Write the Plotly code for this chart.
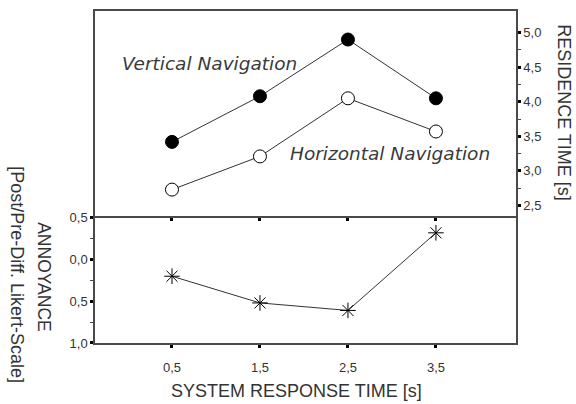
import plotly.graph_objects as go

# ---- data ----
srt = [0.5, 1.5, 2.5, 3.5]
vertical_nav = [3.42, 4.08, 4.90, 4.05]
horizontal_nav = [2.73, 3.21, 4.05, 3.57]
annoyance = [-0.20, -0.52, -0.61, 0.32]

x_tick_vals = [0.5, 1.5, 2.5, 3.5]
x_tick_text = ["0,5", "1,5", "2,5", "3,5"]
res_tick_vals = [2.5, 3.0, 3.5, 4.0, 4.5, 5.0]
res_tick_text = ["2,5", "3,0", "3,5", "4,0", "4,5", "5,0"]
ann_tick_vals = [0.5, 0.0, -0.5, -1.0]
ann_tick_text = ["0,5", "0,0", "0,5", "1,0"]

# ---- layout geometry (pixels) ----
W, H = 576, 404
L, R, T, B = 95, 60, 5, 61
PW, PH = W - L - R, H - T - B
DIV = 214  # divider pixel y
split = (H - B - DIV) / PH

def px(xp):
    return (xp - L) / PW

def py(yp):
    return (H - B - yp) / PH

LINE = "#4a4a4a"
TXT = "#333333"
FONT = "Liberation Sans, Arial, sans-serif"

fig = go.Figure()

fig.add_trace(go.Scatter(
    x=srt, y=vertical_nav, xaxis="x2", yaxis="y2", mode="lines+markers",
    line=dict(color="#333333", width=1),
    marker=dict(symbol="circle", size=13, color="black", line=dict(color="black", width=1)),
    showlegend=False, hoverinfo="skip"))
fig.add_trace(go.Scatter(
    x=srt, y=horizontal_nav, xaxis="x2", yaxis="y2", mode="lines+markers",
    line=dict(color="#333333", width=1),
    marker=dict(symbol="circle", size=13, color="white", line=dict(color="black", width=1)),
    showlegend=False, hoverinfo="skip"))
fig.add_trace(go.Scatter(
    x=srt, y=annoyance, xaxis="x", yaxis="y", mode="lines+markers",
    line=dict(color="#333333", width=1),
    marker=dict(symbol="asterisk-open", size=13, color="black", line=dict(color="black", width=1)),
    showlegend=False, hoverinfo="skip"))

xrange = [-0.375, 4.41]
tickfont = dict(family=FONT, size=13, color=TXT)

fig.update_layout(
    width=W, height=H, margin=dict(l=L, r=R, t=T, b=B),
    paper_bgcolor="white", plot_bgcolor="white",
    xaxis=dict(domain=[0, 1], anchor="y", range=xrange,
               tickmode="array", tickvals=x_tick_vals, ticktext=x_tick_text,
               ticks="outside", ticklen=3, tickwidth=3, tickcolor="black",
               ticklabelstandoff=9,
               showline=True, linecolor=LINE, linewidth=1.5, mirror=False,
               showgrid=False, zeroline=False, tickfont=tickfont),
    xaxis2=dict(domain=[0, 1], anchor="y2", range=xrange, matches="x",
                tickmode="array", tickvals=x_tick_vals, ticktext=x_tick_text,
                showticklabels=False,
                ticks="outside", ticklen=3, tickwidth=3, tickcolor="black",
                showline=True, linecolor=LINE, linewidth=1.5, mirror=True,
                showgrid=False, zeroline=False),
    yaxis=dict(domain=[0, split], anchor="x", range=[-1.0, 0.518],
               tickmode="array", tickvals=ann_tick_vals, ticktext=ann_tick_text,
               ticks="outside", ticklen=3, tickwidth=3, tickcolor="black",
               minor=dict(tickvals=[0.25, -0.25, -0.75], ticks="outside", ticklen=3,
                          tickwidth=1, tickcolor=LINE),
               showline=True, linecolor=LINE, linewidth=1.5, mirror=True,
               showgrid=False, zeroline=False, tickfont=tickfont),
    yaxis2=dict(domain=[split, 1], anchor="x2", side="right",
                range=[2.344, 5.3125],
                tickmode="array", tickvals=res_tick_vals, ticktext=res_tick_text,
                ticks="outside", ticklen=3, tickwidth=3, tickcolor="black",
                minor=dict(tickvals=[2.75, 3.25, 3.75, 4.25, 4.75], ticks="outside",
                           ticklen=3, tickwidth=1, tickcolor=LINE),
                showline=True, linecolor=LINE, linewidth=1.5, mirror=True,
                showgrid=False, zeroline=False, tickfont=tickfont),
)

ann_font = dict(family=FONT, size=18, color=TXT)
it_font = dict(family="DejaVu Sans, sans-serif", size=18.5, color="#3a3a3a", style="italic")

common = dict(showarrow=False, xanchor="center", yanchor="middle")
fig.add_annotation(x=0.932, y=4.56, xref="x2", yref="y2", text="Vertical Navigation",
                   font=it_font, **common)
fig.add_annotation(x=2.977, y=3.25, xref="x2", yref="y2", text="Horizontal Navigation",
                   font=it_font, **common)
fig.add_annotation(x=px(296), y=py(392), xref="paper", yref="paper",
                   text="SYSTEM RESPONSE TIME [s]", font=ann_font, **common)
fig.add_annotation(x=px(564), y=py(108), xref="paper", yref="paper",
                   text="RESIDENCE TIME [s]", textangle=90, font=ann_font, **common)
fig.add_annotation(x=px(44), y=py(276), xref="paper", yref="paper",
                   text="ANNOYANCE", textangle=90, font=dict(family=FONT, size=17.5, color=TXT),
                   **common)
fig.add_annotation(x=px(17), y=py(273), xref="paper", yref="paper",
                   text="[Post/Pre-Diff. Likert-Scale]", textangle=90,
                   font=ann_font, **common)

fig.write_html("out.html", config={"displayModeBar": False},
               post_script="document.body.style.margin='0';")
